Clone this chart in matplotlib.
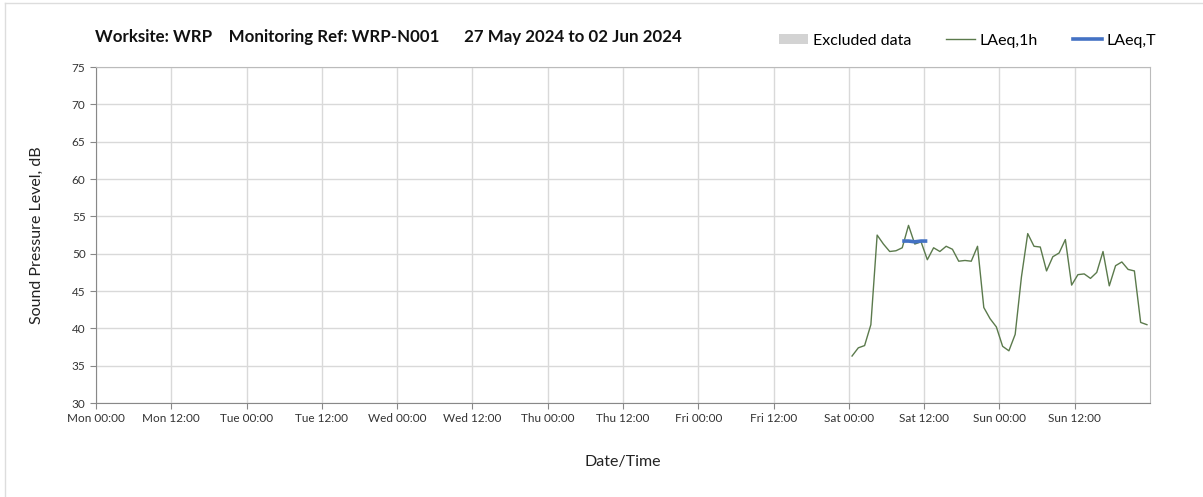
import matplotlib
matplotlib.use('Agg')
import matplotlib.pyplot as plt
import matplotlib.dates as mdates
from matplotlib.patches import Patch
from matplotlib.lines import Line2D
import pandas as pd

plt.rcParams['font.family'] = ['Lato', 'DejaVu Sans']

# hourly LAeq,1h readings, Sat 01 Jun 00:30 to Sun 02 Jun 23:30
laeq_1h = [36.3, 37.4, 37.7, 40.5, 52.5, 51.3, 50.3, 50.4, 50.8, 53.8,
           51.3, 51.6, 49.2, 50.8, 50.3, 51.0, 50.6, 49.0, 49.1, 49.0,
           51.0, 42.8, 41.3, 40.2, 37.6, 37.0, 39.2, 46.9, 52.7, 51.0,
           50.9, 47.7, 49.6, 50.1, 51.9, 45.8, 47.2, 47.3, 46.7, 47.5,
           50.3, 45.7, 48.4, 48.9, 47.9, 47.7, 40.8, 40.5]
times_1h = pd.date_range('2024-06-01 00:30', periods=len(laeq_1h), freq='h')

# LAeq,T over the measurement period
times_t = pd.to_datetime(['2024-06-01 08:30', '2024-06-01 09:30', '2024-06-01 10:30',
                          '2024-06-01 11:30', '2024-06-01 12:30'])
laeq_t = [51.7, 51.7, 51.6, 51.7, 51.7]

x_start = pd.Timestamp('2024-05-27 00:00')
x_end = pd.Timestamp('2024-06-03 00:00')
x_ticks = pd.date_range('2024-05-27 00:00', '2024-06-02 12:00', freq='12h')
y_ticks = [30, 35, 40, 45, 50, 55, 60, 65, 70, 75]

title = 'Worksite: WRP    Monitoring Ref: WRP-N001      27 May 2024 to 02 Jun 2024'

fig = plt.figure(figsize=(12.03, 4.97), dpi=100)
ax = fig.add_axes([0.0798, 0.189, 0.8762, 0.676])

ax.plot(times_1h, laeq_1h, color='#5b7a4c', linewidth=1.0)
ax.plot(times_t, laeq_t, color='#4472c4', linewidth=2.6, solid_capstyle='butt')

ax.set_xlim(x_start, x_end)
ax.set_ylim(30, 75)
ax.set_yticks(y_ticks)
ax.set_xticks(x_ticks)
ax.xaxis.set_major_formatter(mdates.DateFormatter('%a %H:%M'))

ax.grid(True, color='#d9d9d9', linewidth=1.0)
ax.set_axisbelow(True)
for side in ['left', 'bottom']:
    ax.spines[side].set_color('#888888')
for side in ['top', 'right']:
    ax.spines[side].set_color('#bbbbbb')
ax.tick_params(axis='both', colors='#888888', labelcolor='#333333',
               labelsize=8.5, length=4)

ax.set_ylabel('Sound Pressure Level, dB', fontsize=11.5, color='#222222', labelpad=20)
ax.set_xlabel('Date/Time', fontsize=11.5, color='#222222', labelpad=22)

fig.text(0.079, 0.925, title, fontsize=12.2, fontweight='bold', color='#111111',
         ha='left', va='center')

handles = [Patch(facecolor='#d3d3d3', edgecolor='none'),
           Line2D([0], [0], color='#5b7a4c', linewidth=1.0),
           Line2D([0], [0], color='#4472c4', linewidth=2.6)]
labels = ['Excluded data', 'LAeq,1h', 'LAeq,T']
fig.legend(handles, labels, loc='center right', bbox_to_anchor=(0.973, 0.918),
           ncol=3, frameon=False, fontsize=11.5, handlelength=1.8,
           handleheight=0.6, handletextpad=0.3, columnspacing=2.2)

# faint frame around the chart
fig.add_artist(Line2D([0.004, 0.004], [0, 0.994], color='#dddddd', linewidth=1))
fig.add_artist(Line2D([0.004, 1.0], [0.994, 0.994], color='#dddddd', linewidth=1))

fig.savefig('out.png', dpi=100, facecolor='white')
